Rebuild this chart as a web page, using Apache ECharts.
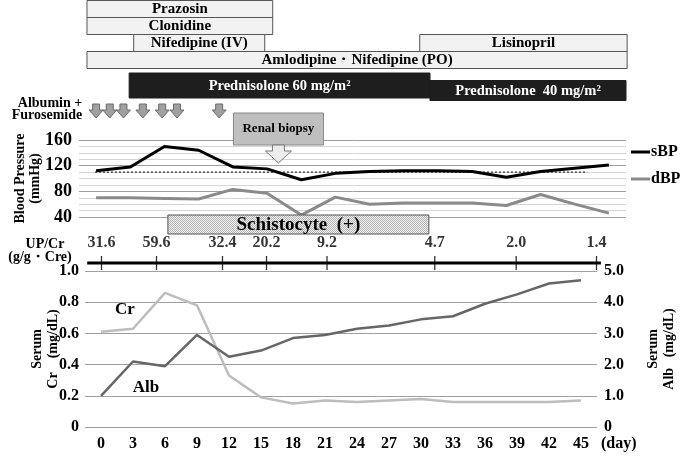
<!DOCTYPE html>
<html><head><meta charset="utf-8">
<script src="https://cdn.jsdelivr.net/npm/echarts@6/dist/echarts.min.js"></script>
<style>html,body{margin:0;padding:0;background:#fff}#c{width:685px;height:458px}</style>
</head><body><div id="c"></div>
<script>
// ---- data ----
const days = ['0','3','6','9','12','15','18','21','24','27','30','33','36','39','42','45'];
const sBP = [112,118,150,144,118,115,98,108,111,112,112,111,102,111,116,121];
const dBP = [70,70,69,68,83,77,43,71,60,62,62,62,58,75,60,46];
const cr  = [0.61,0.63,0.86,0.78,0.33,0.19,0.15,0.17,0.16,0.17,0.18,0.16,0.16,0.16,0.16,0.17];
const alb = [1.0,2.1,1.95,2.95,2.25,2.45,2.85,2.95,3.15,3.25,3.45,3.55,3.95,4.25,4.6,4.7];
const bpRef = 110;
const upcrDays = [0,5,11,15,20.5,30.3,37.7,45];
const upcrVals = ['31.6','59.6','32.4','20.2','9.2','4.7','2.0','1.4'];
const albuminDays = [0,1.2,2.4,4.1,5.8,7.1,10.8];
const drugNames = ['Prazosin','Clonidine','Nifedipine (IV)','Lisinopril','Amlodipine・Nifedipine (PO)','Prednisolone 60 mg/m²','Prednisolone  40 mg/m²'];
const drugStart = [-0.8,-0.8,3.3,28.4,-0.8,2.9,29.3];
const drugEnd   = [15.5,15.5,14.8,46.6,46.6,29.3,46.5];
const drugLane  = [0,1,2,2,3,4,5];
const biopsyDay = 16;
const schistoRange = [6.3,29.2];

// ---- styles ----
const FF = '"Liberation Serif","Times New Roman",serif';
const laneBox = [[0,17],[17,17],[34,17],[51,17],[72.5,25],[80,20]];
const pc = document.createElement('canvas'); pc.width=2; pc.height=2;
const g = pc.getContext('2d'); g.fillStyle='#f4f4f4'; g.fillRect(0,0,2,2);
g.fillStyle='#b0b0b0'; g.fillRect(0,0,1,1); g.fillRect(1,1,1,1);

const chart = echarts.init(document.getElementById('c'));
chart.setOption({
  animation:false,
  textStyle:{fontFamily:FF},
  grid:[
    {left:79, right:59, top:140, height:77},
    {left:85, right:72, top:255, height:16},
    {left:85, right:72, top:271, height:156}
  ],
  legend:{
    orient:'vertical', left:631, top:144, itemWidth:19, itemHeight:3, itemGap:11, icon:'rect',
    data:['sBP','dBP'], padding:0,
    textStyle:{fontFamily:FF, fontWeight:'bold', fontSize:16, color:'#000', padding:[0,0,0,-4]}
  },
  xAxis:[
    {type:'category', gridIndex:0, data:days, show:false},
    {type:'value', gridIndex:0, min:-1.5, max:46.5, show:false},
    {type:'value', gridIndex:1, min:-1.5, max:46.5, show:false},
    {type:'category', gridIndex:2, data:days, axisLine:{show:false}, axisTick:{show:false},
     axisLabel:{fontFamily:FF, fontWeight:'bold', fontSize:16, color:'#000', margin:9},
     name:'(day)', nameLocation:'end', nameGap:4,
     nameTextStyle:{fontFamily:FF, fontWeight:'bold', fontSize:16, color:'#000', verticalAlign:'top', padding:[9,0,0,0]}}
  ],
  yAxis:[
    {type:'value', gridIndex:0, min:40, max:160, interval:40,
     axisLine:{show:false}, axisTick:{show:false},
     axisLabel:{fontFamily:FF, fontWeight:'bold', fontSize:18, color:'#000', margin:7},
     splitLine:{lineStyle:{color:'#a0a0a0'}},
     minorTick:{show:false, splitNumber:4},
     minorSplitLine:{show:true, lineStyle:{color:'#d4d4d4'}},
     name:'Blood Pressure\n(mmHg)', nameLocation:'middle', nameRotate:90, nameGap:36, nameMoveOverlap:false,
     nameTextStyle:{fontFamily:FF, fontWeight:'bold', fontSize:14, color:'#000', lineHeight:15}},
    {type:'value', gridIndex:1, min:0, max:1, show:false},
    {type:'value', gridIndex:2, min:0, max:1, interval:0.2,
     axisLine:{show:false}, axisTick:{show:false},
     axisLabel:{fontFamily:FF, fontWeight:'bold', fontSize:16, color:'#000', margin:6,
       formatter:v=>v===0?'0':v.toFixed(1)},
     splitLine:{lineStyle:{color:'#a0a0a0'}},
     name:'Serum\nCr    (mg/dL)', nameLocation:'middle', nameRotate:90, nameGap:24, nameMoveOverlap:false,
     nameTextStyle:{fontFamily:FF, fontWeight:'bold', fontSize:14, color:'#000', lineHeight:16}},
    {type:'value', gridIndex:2, min:0, max:5, interval:1, position:'right',
     axisLine:{show:false}, axisTick:{show:false},
     axisLabel:{fontFamily:FF, fontWeight:'bold', fontSize:16, color:'#000', margin:7,
       formatter:v=>v===0?'0':v.toFixed(1)},
     splitLine:{show:false},
     name:'Serum\nAlb   (mg/dL)', nameLocation:'middle', nameRotate:90, nameGap:48, nameMoveOverlap:false,
     nameTextStyle:{fontFamily:FF, fontWeight:'bold', fontSize:14, color:'#000', lineHeight:16}}
  ],
  series:[
    {type:'line', name:'ref', xAxisIndex:1, yAxisIndex:0, data:[[-0.1,bpRef],[43.1,bpRef]],
     symbol:'none', lineStyle:{color:'#000', width:1, type:[2,2]}, z:1, silent:true},
    {type:'line', name:'sBP', xAxisIndex:0, yAxisIndex:0, data:sBP, symbol:'none',
     color:'#000', lineStyle:{color:'#000', width:3}, z:3},
    {type:'line', name:'dBP', xAxisIndex:0, yAxisIndex:0, data:dBP, symbol:'none',
     color:'#8a8a8a', lineStyle:{color:'#8a8a8a', width:3}, z:3},
    {type:'line', name:'Cr', xAxisIndex:3, yAxisIndex:2, data:cr, symbol:'none',
     lineStyle:{color:'#bdbdbd', width:2.5}, z:3},
    {type:'line', name:'Alb', xAxisIndex:3, yAxisIndex:3, data:alb, symbol:'none',
     lineStyle:{color:'#666', width:2.5}, z:3},
    // UP/Cr timeline
    {type:'line', xAxisIndex:2, yAxisIndex:1, data:[[-1.3,0.5],[45.4,0.5]], symbol:'none',
     lineStyle:{color:'#000', width:3}, z:3, silent:true},
    {type:'scatter', xAxisIndex:2, yAxisIndex:1, symbol:'rect', symbolSize:[1.3,14],
     itemStyle:{color:'#000'}, z:4, clip:false,
     data:upcrDays.map((d,i)=>({value:[d,0.5], label:{formatter:upcrVals[i]}})),
     label:{show:true, position:'top', distance:5, fontFamily:FF, fontWeight:'bold', fontSize:16, color:'#000'}},
    // drug bars
    {type:'custom', xAxisIndex:1, yAxisIndex:0, clip:false, z:5,
     data:drugNames.map((n,i)=>[drugStart[i], drugEnd[i], drugLane[i]]),
     renderItem:(params, api)=>{
       const x0 = api.coord([api.value(0),100])[0], x1 = api.coord([api.value(1),100])[0];
       const lane = api.value(2); const b = laneBox[lane]; const dark = lane>=4;
       return {type:'group', children:[
         {type:'rect', shape:{x:x0, y:b[0]+0.5, width:x1-x0, height:b[1]},
          style:{fill: dark?'#1e1e1e':'#f2f2f2', stroke: dark?'#1e1e1e':'#555', lineWidth:1}},
         {type:'text', style:{text:drugNames[params.dataIndex], x:(x0+x1)/2, y:b[0]+b[1]/2+1,
          align:'center', verticalAlign:'middle', font:'bold '+(dark?'14.5px ':'15px ')+FF, fill: dark?'#fff':'#000'}}
       ]};
     }},
    // albumin + furosemide arrows
    {type:'custom', xAxisIndex:1, yAxisIndex:0, clip:false, z:5,
     data:albuminDays.map(d=>[d,100]),
     renderItem:(params, api)=>{
       const cx = api.coord([api.value(0),100])[0];
       return {type:'polygon', shape:{points:[[cx-3.5,104],[cx+3.5,104],[cx+3.5,110],[cx+7,110],[cx,118],[cx-7,110],[cx-3.5,110]]},
         style:{fill:'#a0a0a0', stroke:'#6a6a6a', lineWidth:1}};
     }},
    // renal biopsy
    {type:'custom', xAxisIndex:1, yAxisIndex:0, clip:false, z:6,
     data:[[biopsyDay,100]],
     renderItem:(params, api)=>{
       const cx = api.coord([api.value(0),100])[0];
       return {type:'group', children:[
         {type:'rect', shape:{x:cx-45, y:113, width:90, height:32}, style:{fill:'#bfbfbf', stroke:'#888', lineWidth:1}},
         {type:'text', style:{text:'Renal biopsy', x:cx, y:129, align:'center', verticalAlign:'middle', font:'bold 13px '+FF, fill:'#000'}},
         {type:'polygon', shape:{points:[[cx-6,145],[cx+6,145],[cx+6,151],[cx+13,151],[cx,163],[cx-13,151],[cx-6,151]]},
          style:{fill:'#ececec', stroke:'#777', lineWidth:1}}
       ]};
     }},
    // schistocyte
    {type:'custom', xAxisIndex:1, yAxisIndex:0, clip:false, z:6,
     data:[[schistoRange[0], schistoRange[1]]],
     renderItem:(params, api)=>{
       const x0 = api.coord([api.value(0),40])[0], x1 = api.coord([api.value(1),40])[0];
       return {type:'group', children:[
         {type:'rect', shape:{x:x0, y:215, width:x1-x0, height:19}, style:{fill:{image:pc, repeat:'repeat'}, stroke:'#555', lineWidth:1}},
         {type:'text', style:{text:'Schistocyte  (+)', x:(x0+x1)/2, y:225, align:'center', verticalAlign:'middle', font:'bold 19px '+FF, fill:'#000'}}
       ]};
     }}
  ],
  graphic:[
    {type:'text', style:{text:'Albumin +', x:50, y:103, align:'center', verticalAlign:'middle', font:'bold 14px '+FF, fill:'#000'}},
    {type:'text', style:{text:'Furosemide', x:47, y:115, align:'center', verticalAlign:'middle', font:'bold 14px '+FF, fill:'#000'}},
    {type:'text', style:{text:'UP/Cr', x:45, y:244, align:'center', verticalAlign:'middle', font:'bold 14px '+FF, fill:'#000'}},
    {type:'text', style:{text:'(g/g・Cre)', x:40, y:257, align:'center', verticalAlign:'middle', font:'bold 14px '+FF, fill:'#000'}},
    {type:'text', style:{text:'Cr', x:125, y:310, align:'center', verticalAlign:'middle', font:'bold 17px '+FF, fill:'#000'}},
    {type:'text', style:{text:'Alb', x:146, y:388, align:'center', verticalAlign:'middle', font:'bold 17px '+FF, fill:'#000'}}
  ]
});
</script></body></html>
